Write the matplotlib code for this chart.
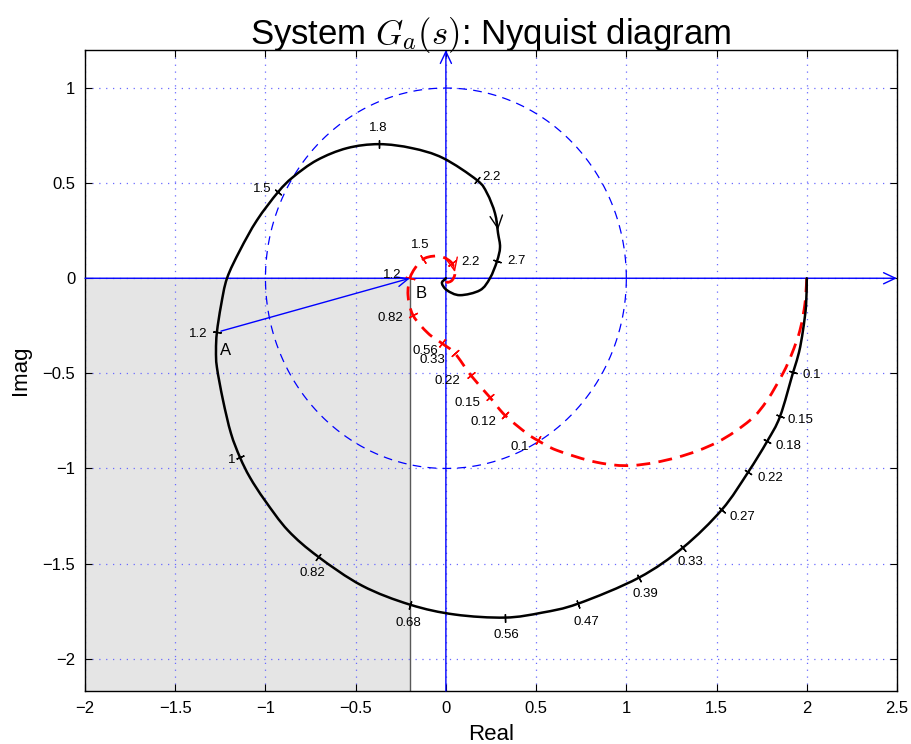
import numpy as np
import matplotlib
matplotlib.use("Agg")
import matplotlib.pyplot as plt
from matplotlib.patches import Rectangle, PathPatch
from matplotlib.path import Path

plt.rcParams["mathtext.fontset"] = "cm"
plt.rcParams["font.family"] = ["Liberation Sans", "DejaVu Sans"]

# ---------------- data ----------------
# System G_a (black, solid)
ga_re = [2.0, 1.996, 1.979, 1.957, 1.924, 1.852, 1.780, 1.674, 1.530, 1.314,
         1.070, 0.732, 0.533, 0.328, 0.050, -0.199, -0.465, -0.709, -0.875,
         -1.003, -1.086, -1.141, -1.191, -1.235, -1.269, -1.274, -1.269,
         -1.246, -1.213, -1.141, -1.047, -0.930, -0.847, -0.714, -0.548,
         -0.371, -0.188, -0.016, 0.172, 0.228, 0.272, 0.289, 0.300, 0.283,
         0.244, 0.189, 0.078, 0.006, -0.022, -0.005, 0.0]
ga_im = [0.0, -0.142, -0.274, -0.389, -0.495, -0.726, -0.858, -1.021, -1.216,
         -1.416, -1.574, -1.711, -1.758, -1.784, -1.768, -1.716, -1.616,
         -1.463, -1.326, -1.168, -1.047, -0.942, -0.816, -0.642, -0.468,
         -0.379, -0.284, -0.142, 0.0, 0.147, 0.305, 0.453, 0.532, 0.621,
         0.684, 0.705, 0.684, 0.632, 0.516, 0.447, 0.342, 0.237, 0.163,
         0.089, 0.0, -0.063, -0.089, -0.063, -0.026, -0.005, 0.0]

# Reference system (red, dashed)
gb_re = [2.0, 1.990, 1.962, 1.918, 1.868, 1.780, 1.685, 1.502, 1.281, 1.037,
         0.838, 0.616, 0.510, 0.449, 0.328, 0.244, 0.139, 0.050, -0.022,
         -0.099, -0.182, -0.210, -0.199, -0.171, -0.127, -0.071, -0.016,
         0.034, 0.050, 0.034, 0.006, 0.0]
gb_im = [0.0, -0.132, -0.274, -0.395, -0.500, -0.642, -0.747, -0.863, -0.942,
         -0.984, -0.968, -0.905, -0.853, -0.816, -0.721, -0.626, -0.511,
         -0.395, -0.342, -0.289, -0.195, -0.089, 0.0, 0.053, 0.100, 0.116,
         0.111, 0.079, 0.026, -0.011, -0.021, 0.0]

# Frequency marks on the black curve
ga_freq = ["0.1", "0.15", "0.18", "0.22", "0.27", "0.33", "0.39", "0.47",
           "0.56", "0.68", "0.82", "1", "1.2", "1.5", "1.8", "2.2", "2.7"]
ga_freq_re = [1.924, 1.852, 1.780, 1.674, 1.530, 1.314, 1.070, 0.732, 0.328,
              -0.199, -0.709, -1.141, -1.269, -0.930, -0.371, 0.172, 0.283]
ga_freq_im = [-0.495, -0.726, -0.858, -1.021, -1.216, -1.416, -1.574, -1.711,
              -1.784, -1.716, -1.463, -0.942, -0.284, 0.453, 0.705, 0.516, 0.089]

# Frequency marks on the red curve
gb_freq = ["0.1", "0.12", "0.15", "0.22", "0.33", "0.56", "0.82", "1.2", "1.5", "2.2"]
gb_freq_re = [0.510, 0.328, 0.244, 0.139, 0.050, -0.022, -0.182, -0.199, -0.127, 0.034]
gb_freq_im = [-0.853, -0.721, -0.626, -0.511, -0.395, -0.342, -0.195, 0.0, 0.100, 0.079]

# Points A and B (omega = 1.2 on both curves)
pt_a = (-1.269, -0.284)
pt_b = (-0.199, 0.0)
x_limits = (-2.0, 2.5)
y_limits = (-2.17, 1.2)
x_ticks = [-2, -1.5, -1, -0.5, 0, 0.5, 1, 1.5, 2, 2.5]
y_ticks = [-2, -1.5, -1, -0.5, 0, 0.5, 1]

# ---------------- layout (label offsets in pixels: dx right, dy down) -----
ga_off = [(19, 3), (20, 4), (21, 5), (22, 6), (20, 7), (7, 14), (6, 16), (8, 18),
          (1, 17), (-2, 18), (-6, 16), (-8, 3), (-19, 2), (-16, -3), (-1, -16),
          (15, -3), (20, 0)]
gb_off = [(-18, 7), (-22, 7), (-22, 6), (-24, 6), (-23, 7), (-17, 8), (-23, 3),
          (-18, -3), (-3, -14), (18, -1)]


def smooth_path(xs, ys):
    """Catmull-Rom curve passing through the given points (drawn as Bezier)."""
    P = np.column_stack([xs, ys]).astype(float)
    n = len(P)
    verts = [P[0]]
    codes = [Path.MOVETO]
    for i in range(n - 1):
        p0 = P[i - 1] if i > 0 else P[i]
        p1, p2 = P[i], P[i + 1]
        p3 = P[i + 2] if i + 2 < n else P[i + 1]
        c1 = p1 + (p2 - p0) / 6.0
        c2 = p2 - (p3 - p1) / 6.0
        verts += [c1, c2, p2]
        codes += [Path.CURVE4] * 3
    return Path(verts, codes)


fig = plt.figure(figsize=(9.12, 7.44), dpi=100)
ax = fig.add_axes([85 / 912, 53 / 744, 812 / 912, 641 / 744])
ax.set_xlim(*x_limits)
ax.set_ylim(*y_limits)

# shaded region
ax.add_patch(Rectangle((x_limits[0], y_limits[0]), pt_b[0] - x_limits[0],
                       -y_limits[0], facecolor="#e5e5e5", edgecolor="none", zorder=0))
ax.plot([pt_b[0], pt_b[0]], [y_limits[0], 0], color="0.35", lw=1.0, zorder=1)

# grid
ax.set_xticks(x_ticks)
ax.set_yticks(y_ticks)
ax.set_xticklabels([("%g" % v).replace("-", "\u2212") for v in x_ticks])
ax.set_yticklabels([("%g" % v).replace("-", "\u2212") for v in y_ticks])
ax.grid(True, color="#6a6aff", linestyle=(0, (1, 4.5)), linewidth=0.9, zorder=1)
ax.set_axisbelow(True)
ax.tick_params(direction="in", top=True, right=True, length=5, width=0.8,
               labelsize=12, pad=7)
for s in ax.spines.values():
    s.set_linewidth(1.0)

# unit circle
th = np.linspace(0, 2 * np.pi, 400)
ax.plot(np.cos(th), np.sin(th), color="blue", lw=0.9, dashes=(7, 5), zorder=2)

# blue axes with arrows
ax.annotate("", xy=(x_limits[1], 0), xytext=(x_limits[0], 0),
            arrowprops=dict(arrowstyle="->,head_length=0.85,head_width=0.4",
                            color="blue", lw=1.0, shrinkA=0, shrinkB=0), zorder=3)
ax.annotate("", xy=(0, y_limits[1]), xytext=(0, y_limits[0]),
            arrowprops=dict(arrowstyle="->,head_length=0.85,head_width=0.4",
                            color="blue", lw=1.0, shrinkA=0, shrinkB=0), zorder=3)

# curves
ax.add_patch(PathPatch(smooth_path(gb_re, gb_im), facecolor="none", edgecolor="red",
                       lw=2.0, linestyle=(0, (5, 3)), zorder=4))
ax.add_patch(PathPatch(smooth_path(ga_re, ga_im), facecolor="none", edgecolor="black",
                       lw=1.8, zorder=5, capstyle="round", joinstyle="round"))

fig.canvas.draw()


def tick_marks(cre, cim, fre, fim, color, ms, z):
    P = ax.transData.transform(np.column_stack([cre, cim]))
    for x, y in zip(fre, fim):
        d = (np.array(cre) - x) ** 2 + (np.array(cim) - y) ** 2
        i = int(np.argmin(d))
        i0, i1 = max(i - 1, 0), min(i + 1, len(cre) - 1)
        dx, dy = P[i1] - P[i0]
        ang = np.degrees(np.arctan2(dy, dx))
        ax.plot([x], [y], marker=(2, 2, ang), color=color, ms=ms, mew=1.0,
                linestyle="none", zorder=z)


tick_marks(ga_re, ga_im, ga_freq_re, ga_freq_im, "black", 6.0, 6)
tick_marks(gb_re, gb_im, gb_freq_re, gb_freq_im, "red", 7.0, 6)

for lab, x, y, (dx, dy) in zip(ga_freq, ga_freq_re, ga_freq_im, ga_off):
    ax.annotate(lab, (x, y), xytext=(dx, -dy), textcoords="offset pixels",
                ha="center", va="center", fontsize=9.5, color="black", zorder=7)
for lab, x, y, (dx, dy) in zip(gb_freq, gb_freq_re, gb_freq_im, gb_off):
    ax.annotate(lab, (x, y), xytext=(dx, -dy), textcoords="offset pixels",
                ha="center", va="center", fontsize=9.5, color="black", zorder=7)

# direction arrows on curves
ax.annotate("", xy=(0.289, 0.255), xytext=(0.283, 0.300),
            arrowprops=dict(arrowstyle="->,head_length=0.9,head_width=0.45",
                            color="black", lw=1.0, shrinkA=0, shrinkB=0), zorder=6)
ax.annotate("", xy=(0.050, 0.032), xytext=(0.040, 0.075),
            arrowprops=dict(arrowstyle="->,head_length=0.9,head_width=0.4",
                            color="red", lw=1.0, shrinkA=0, shrinkB=0), zorder=6)

# A -> B arrow
ax.annotate("", xy=pt_b, xytext=pt_a,
            arrowprops=dict(arrowstyle="->,head_length=0.8,head_width=0.35",
                            color="blue", lw=1.0, shrinkA=3, shrinkB=0), zorder=6)
ax.annotate("A", pt_a, xytext=(9, -18), textcoords="offset pixels",
            ha="center", va="center", fontsize=12)
ax.annotate("B", pt_b, xytext=(11, -15), textcoords="offset pixels",
            ha="center", va="center", fontsize=12)

ax.set_title("System $G_a(s)$: Nyquist diagram", fontsize=25, pad=4)
ax.set_xlabel("Real", fontsize=16, labelpad=6)
ax.set_ylabel("Imag", fontsize=16, labelpad=8)

fig.savefig("out.png", dpi=100)
